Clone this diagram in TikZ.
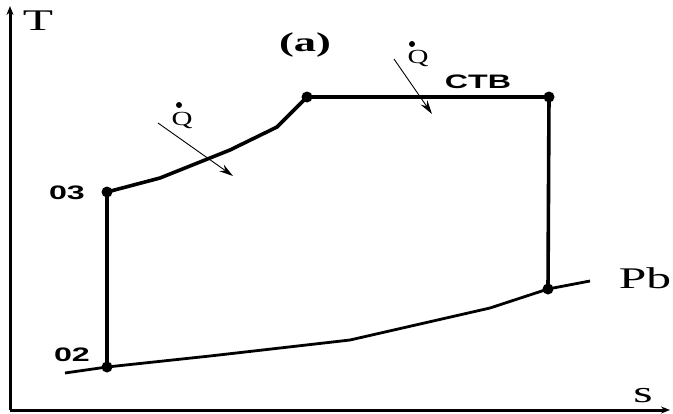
\documentclass[tikz,border=0pt]{standalone}
\usepackage{fontspec}
\newfontfamily\sansb{Liberation Sans}
\setmainfont{Liberation Serif}
\usetikzlibrary{arrows.meta}
\newcommand{\wide}[1]{\scalebox{1.65}[1]{#1}}
\begin{document}
\begin{tikzpicture}[x=1pt,y=-1pt,
  thick line/.style={line width=3.6pt},
  thin arrow/.style={line width=0.9pt,-{Stealth[length=14pt,width=8pt]}},
  dotpt/.style={circle,fill=black,inner sep=0pt,minimum size=11pt},
  sanslabel/.style={font=\sansb\bfseries\fontsize{19.5}{20}\selectfont,inner sep=0pt},
  seriflabel/.style={font=\fontsize{30}{30}\selectfont,inner sep=0pt}]
\useasboundingbox (0,0) rectangle (673,413);
% axes
\coordinate (o) at (10,410);
\coordinate (ty) at (10,6);
\coordinate (sx) at (670,410);
\draw[line width=3pt,-{Stealth[length=9pt,width=7pt]}] (o) -- (ty);
\draw[line width=3pt,-{Stealth[length=9pt,width=7pt]}] (o) -- (sx);
\node[seriflabel,anchor=base] (T) at (38,30) {\wide{T}};
\node[seriflabel,anchor=base] (s) at (643,402) {\wide{s}};
\node[font=\bfseries\fontsize{27}{27}\selectfont,inner sep=0pt] (a) at (305,45) {\wide{(a)}};
% states
\node[dotpt] (p03) at (107,192) {};
\node[dotpt] (p02) at (107,367) {};
\node[dotpt] (ptl) at (307,97) {};
\node[dotpt] (ptr) at (549,97) {};
\node[dotpt] (pbr) at (548,289) {};
\coordinate (pbl) at (65,373);
\coordinate (pbe) at (590,281);
\node[sanslabel] (l03) at (67,193) {\wide{03}};
\node[sanslabel] (l02) at (72,355) {\wide{02}};
\node[sanslabel] (ctb) at (478,82) {\wide{CTB}};
\node[seriflabel,anchor=base] (pb) at (645,288) {\wide{Pb}};
% process lines
\draw[thick line] (p03.center) -- (p02.center);
\draw[thick line] (ptr.center) -- (pbr.center);
\draw[thick line] (ptl.center) -- (ptr.center);
\draw[thick line,line join=round] (p03.center) -- (160,178) -- (230,150) -- (277,127) -- (ptl.center);
\draw[line width=2.8pt,line join=round] (pbl) -- (p02.center) -- (210,356) -- (350,340) -- (490,308) -- (pbr.center) -- (pbe);
% heat arrows
\coordinate (q1a) at (158,123);
\coordinate (q1b) at (233,176);
\coordinate (q2a) at (394,59);
\coordinate (q2b) at (432,114);
\draw[thin arrow] (q1a) -- (q1b);
\draw[thin arrow] (q2a) -- (q2b);
\node[font=\fontsize{20}{20}\selectfont,inner sep=0pt] (Q1) at (182,120) {\scalebox{1.45}[1]{Q}};
\node[circle,fill=black,inner sep=0pt,minimum size=6pt] (d1) at (179,105) {};
\node[font=\fontsize{20}{20}\selectfont,inner sep=0pt] (Q2) at (418,58) {\scalebox{1.45}[1]{Q}};
\node[circle,fill=black,inner sep=0pt,minimum size=6pt] (d2) at (412,44) {};
\end{tikzpicture}
\end{document}
